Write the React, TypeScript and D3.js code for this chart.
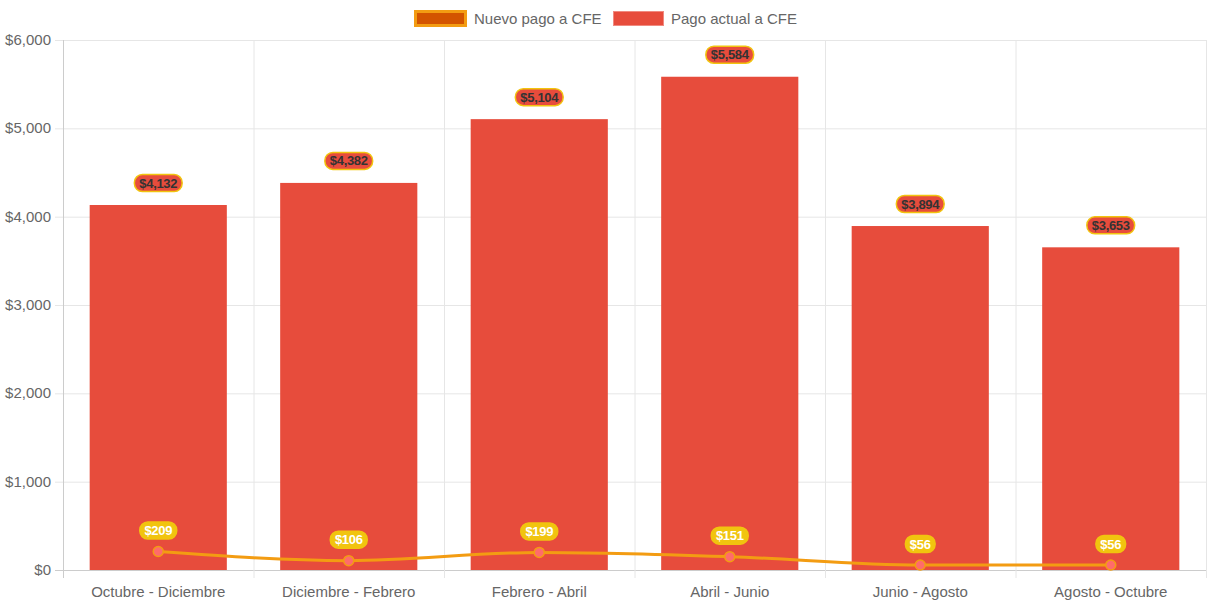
import React from "react";
import * as d3 from "d3";

const categories = ["Octubre - Diciembre", "Diciembre - Febrero", "Febrero - Abril", "Abril - Junio", "Junio - Agosto", "Agosto - Octubre"];
const pagoActual = [4132, 4382, 5104, 5584, 3894, 3653];
const nuevoPago = [209, 106, 199, 151, 56, 56];
const yTicks = [0, 1000, 2000, 3000, 4000, 5000, 6000];

const W = 1213, H = 606;
const left = 63, right = 1206, top = 40, bottom = 570;
const font = "'Liberation Sans', Arial, Helvetica, sans-serif";
const fmt = (v: number) => "$" + d3.format(",")(v);

function textWidth(s: string, size: number) {
  let w = 0;
  for (const ch of s) w += ch === "," ? 0.278 : 0.556;
  return w * size;
}

function Label({ x, y, text, fill, stroke, color }: { x: number; y: number; text: string; fill: string; stroke: string; color: string }) {
  const w = textWidth(text, 13) + 8;
  const h = 17;
  return (
    <g>
      <rect x={x - w / 2} y={y - h / 2} width={w} height={h} rx={8} ry={8} fill={fill} stroke={stroke} strokeWidth={1.5} />
      <text x={x} y={y + 4.5} textAnchor="middle" fontFamily={font} fontWeight="bold" fontSize={13} fill={color} letterSpacing={-0.3}>{text}</text>
    </g>
  );
}

export default function App() {
  const x = d3.scaleBand<string>().domain(categories).range([left, right]).paddingInner(0).paddingOuter(0);
  const y = d3.scaleLinear().domain([0, 6000]).range([bottom, top]);
  const bw = x.bandwidth() * 0.72;
  const cx = (c: string) => (x(c) as number) + x.bandwidth() / 2;
  const linePath = d3.line<number>().x((_, i) => cx(categories[i])).y((d) => y(d)).curve(d3.curveMonotoneX)(nuevoPago) as string;
  const bounds = categories.map((c) => x(c) as number).concat([right]);

  return (
    <svg width={W} height={H} style={{ position: "absolute", left: 0, top: 0 }}>
      {/* legend */}
      <g fontFamily={font} fontSize={15} fill="#666">
        <rect x={415.5} y={11.5} width={50} height={14} fill="#d35400" stroke="#f39c12" strokeWidth={3} />
        <text x={474} y={24}>Nuevo pago a CFE</text>
        <rect x={613.5} y={11.5} width={50} height={14} fill="#e74c3c" stroke="#f08a80" strokeWidth={1} />
        <text x={671} y={24}>Pago actual a CFE</text>
      </g>
      {/* grid */}
      {yTicks.map((t) => (
        <g key={t}>
          <line x1={left - 8} x2={right} y1={y(t) + 0.5} y2={y(t) + 0.5} stroke={t === 0 ? "#ccc" : "#e6e6e6"} />
          <text x={left - 12} y={y(t) + 5} textAnchor="end" fontFamily={font} fontSize={15} fill="#666">{fmt(t)}</text>
        </g>
      ))}
      {bounds.map((b, i) => (
        <line key={i} x1={b + 0.5} x2={b + 0.5} y1={top} y2={bottom + 8} stroke={i === 0 ? "#ccc" : "#e6e6e6"} />
      ))}
      {categories.map((c) => (
        <text key={c} x={cx(c)} y={597} textAnchor="middle" fontFamily={font} fontSize={15} fill="#666">{c}</text>
      ))}
      {/* bars */}
      {categories.map((c, i) => (
        <rect key={c} x={cx(c) - bw / 2} y={y(pagoActual[i])} width={bw} height={bottom - y(pagoActual[i])} fill="#e74c3c" />
      ))}
      {/* line */}
      <path d={linePath} fill="none" stroke="#f39c12" strokeWidth={3} />
      {categories.map((c, i) => (
        <circle key={c} cx={cx(c)} cy={y(nuevoPago[i])} r={5} fill="#ff6b6b" stroke="#f39c12" strokeWidth={1.5} />
      ))}
      {/* labels */}
      {categories.map((c, i) => (
        <Label key={"b" + c} x={cx(c)} y={y(pagoActual[i]) - 22} text={fmt(pagoActual[i])} fill="#e74c3c" stroke="#f1c40f" color="#333" />
      ))}
      {categories.map((c, i) => (
        <Label key={"l" + c} x={cx(c)} y={y(nuevoPago[i]) - 21} text={fmt(nuevoPago[i])} fill="#f1c40f" stroke="#f1c40f" color="#fff" />
      ))}
    </svg>
  );
}
